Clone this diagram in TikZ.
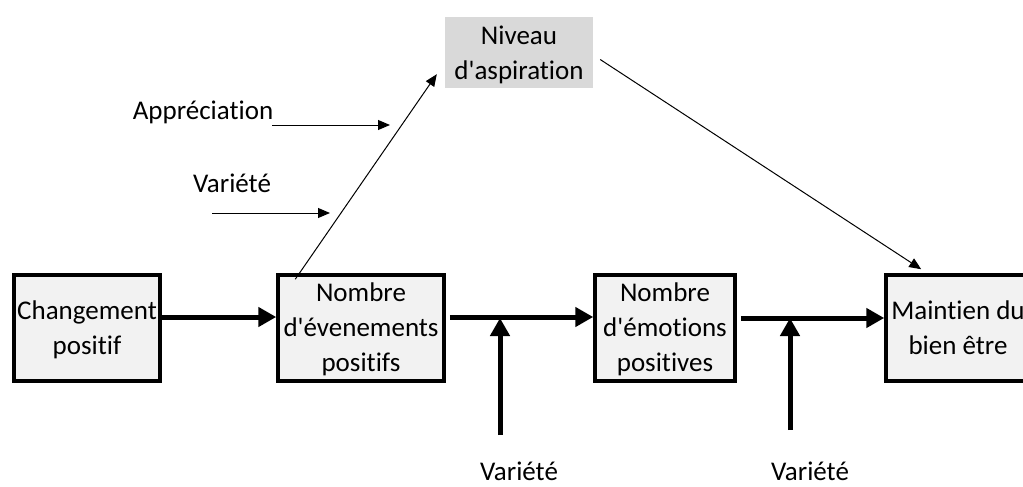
\documentclass[tikz,border=0pt]{standalone}
\usepackage{fontspec}
\setmainfont{Carlito}[Ligatures=NoCommon]
\usepackage{tikz}
\usetikzlibrary{arrows.meta}
\definecolor{boxgray}{HTML}{F2F2F2}
\definecolor{aspgray}{HTML}{D9D9D9}
\tikzstyle{stage} = [rectangle, minimum height=106pt, inner sep=2pt, align=center, draw=black, line width=3.5pt, fill=boxgray, font=\fontsize{27}{35}\selectfont]
\tikzstyle{aspiration} = [rectangle, minimum width=148pt, minimum height=71pt, inner sep=2pt, align=center, fill=aspgray, font=\fontsize{27}{35}\selectfont]
\tikzstyle{lbl} = [inner sep=0pt, font=\fontsize{27}{35}\selectfont]
\tikzstyle{thickarrow} = [line width=5pt, -{Triangle[length=18pt,width=19pt]}]
\tikzstyle{thinarrow} = [line width=1pt, -{Triangle[length=12pt,width=10pt]}]
\begin{document}
\begin{tikzpicture}[x=1pt, y=-1pt, node distance=290pt]
\path[use as bounding box, clip] (0,0) rectangle (1023,487);
\node (chg) [stage, minimum width=146pt, text depth=-2pt] at (87,328) {Changement\\positif};
\node (evt) [stage, minimum width=166pt, text depth=2pt, right of=chg, xshift=-16pt] {Nombre\\d\textquotesingle évenements\\positifs};
\node (emo) [stage, minimum width=140pt, text depth=2pt, right of=evt, xshift=14pt] {Nombre\\d\textquotesingle émotions\\positives};
\node (bien) [stage, minimum width=144pt, text depth=-2pt, right of=emo, xshift=3pt] {Maintien du\\bien être};
\node (niv) [aspiration, text depth=-4pt] at (519,52.5) {Niveau\\d\textquotesingle aspiration};
\node (appr) [lbl, anchor=base] at (203,119) {Appréciation};
\node (var1) [lbl, anchor=base] at (232,192) {Variété};
\node (var2) [lbl, anchor=base] at (519,480) {Variété};
\node (var3) [lbl, anchor=base] at (810,480) {Variété};
\coordinate (a1) at (272,125);
\coordinate (a2) at (390,125);
\coordinate (v1) at (212,213);
\coordinate (v2) at (330,213);
\coordinate (j1) at (500,318);
\coordinate (j2) at (790,318);
\draw [thickarrow] ([yshift=11pt]chg.east) -- ([yshift=11pt]evt.west);
\draw [thickarrow] ([xshift=4pt,yshift=11pt]evt.east) -- ([yshift=11pt]emo.west);
\draw [thickarrow] ([xshift=4pt,yshift=10pt]emo.east) -- ([yshift=10pt]bien.west);
\draw [thickarrow] (j1 |- 0,435) -- (j1);
\draw [thickarrow] (j2 |- 0,430) -- (j2);
\draw [thinarrow] ([xshift=19pt,yshift=-6pt]evt.north west) -- ([xshift=-8pt,yshift=14pt]niv.south west);
\draw [thinarrow] ([xshift=7pt,yshift=-7pt]niv.east) -- ([xshift=37pt,yshift=4pt]bien.north west);
\draw [thinarrow] (a1) -- (a2);
\draw [thinarrow] (v1) -- (v2);
\end{tikzpicture}
\end{document}
